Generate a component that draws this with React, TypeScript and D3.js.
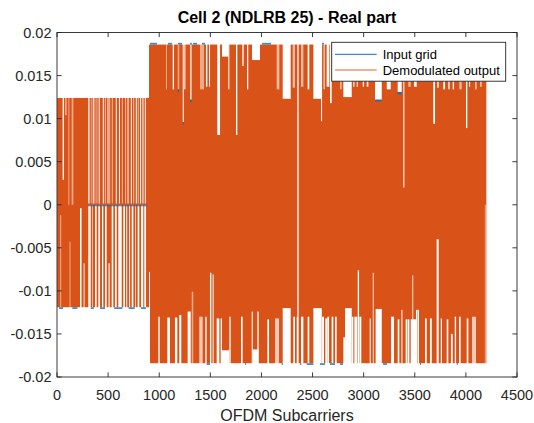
import React from 'react';
import * as d3 from 'd3';

// ---- data ----
const xTicks = [0, 500, 1000, 1500, 2000, 2500, 3000, 3500, 4000, 4500];
const yTicks = [-0.02, -0.015, -0.01, -0.005, 0, 0.005, 0.01, 0.015, 0.02];
const xTickLabels = xTicks.map(String);
const yTickLabels = ['-0.02', '-0.015', '-0.01', '-0.005', '0', '0.005', '0.01', '0.015', '0.02'];

const titleText = 'Cell 2 (NDLRB 25) - Real part';
const xLabelText = 'OFDM Subcarriers';
const seriesNames = ['Input grid', 'Demodulated output'];

// envelope of the densely oscillating signal: [startSc, endSc, low, high]
const bands: number[][] = [
  [1, 900, -0.0119, 0.0124],
  [900, 4200, -0.0184, 0.0186],
];

// subcarriers where the signal sits at zero
const zeroRun = [303, 880];

// white gaps hanging from the top of the envelope: [sc0, sc1, lowestValue, strength]
const topGaps: number[][] = [
  [55, 68, 0.0029, 1], [78, 95, 0.0104, 0.5], [111, 121, 0, 0.5], [143, 160, 0, 0.5],
  [306, 318, 0, 1], [330, 338, 0, 0.5], [350, 358, 0, 1], [366, 374, 0, 0.6], [386, 394, 0, 0.6],
  [408, 416, 0, 1], [448, 456, 0, 1], [468, 476, 0, 0.6], [494, 502, 0, 1], [510, 518, 0, 0.6],
  [536, 544, 0, 0.6], [575, 583, 0, 1], [606, 614, 0, 1], [634, 642, 0, 0.6], [666, 674, 0, 0.6],
  [690, 698, 0, 1], [722, 730, 0, 1], [745, 753, 0, 0.6], [771, 779, 0, 1], [790, 798, 0, 0.6],
  [813, 821, 0, 1], [836, 844, 0, 1], [859, 867, 0, 1],
  [1066, 1076, 0.0134, 0.5], [1132, 1145, 0.0134, 1], [1181, 1196, 0.0134, 0.5],
  [1230, 1240, 0.0096, 1], [1246, 1256, 0.0134, 1], [1301, 1318, 0.0122, 0.7],
  [1399, 1438, 0.0134, 0.5], [1458, 1471, 0.0137, 1], [1487, 1497, 0.0137, 1],
  [1568, 1595, 0.0081, 1], [1614, 1679, 0.0172, 1], [1676, 1686, 0.0134, 1],
  [1751, 1764, 0.0081, 1], [1813, 1826, 0.0161, 1], [1859, 1871, 0.0134, 1],
  [1908, 1986, 0.0168, 1], [2149, 2175, 0.0134, 0.6], [2208, 2286, 0.0123, 1],
  [2306, 2328, 0.0136, 0.6], [2351, 2364, -0.013, 1], [2387, 2410, 0.0137, 0.6],
  [2452, 2468, 0.0134, 1], [2508, 2590, 0.0123, 1], [2583, 2593, 0.0097, 1],
  [2606, 2622, 0.0134, 0.6], [2638, 2664, 0.0137, 1], [2671, 2687, 0.0118, 1],
  [2769, 2785, 0.0134, 0.6], [2801, 2883, 0.0125, 1], [2899, 2910, 0.0137, 1],
  [2932, 2942, 0.0137, 1], [2991, 3004, 0.0137, 1], [3030, 3046, 0.0137, 1],
  [3111, 3177, 0.0122, 1], [3226, 3265, 0.0134, 1], [3333, 3372, 0.0131, 1],
  [3388, 3398, 0.002, 1], [3437, 3460, 0.0137, 0.6], [3493, 3519, 0.0137, 1],
  [3681, 3698, 0.0094, 1], [3720, 3734, 0.0136, 1], [3779, 3796, 0.0134, 1],
  [3828, 3841, 0.0134, 1], [3871, 3884, 0.0134, 1], [3936, 3959, 0.0134, 0.6],
  [4001, 4014, 0.0089, 1], [4031, 4041, 0.0137, 1], [4089, 4106, 0.0134, 0.6],
  [4138, 4155, 0.0137, 0.6],
];

// white gaps rising from the bottom of the envelope: [sc0, sc1, highestValue, strength]
const bottomGaps: number[][] = [
  [31, 41, -0.0012, 0.5], [122, 132, -0.0043, 0.5], [225, 240, -0.0004, 1], [257, 274, -0.0068, 0.5],
  [306, 330, 0, 1], [342, 352, 0, 0.6], [372, 388, 0, 1], [404, 421, 0, 1], [440, 453, 0, 1],
  [470, 486, 0, 1], [502, 518, -0.0068, 0.7], [535, 551, 0, 1], [567, 584, 0, 1], [600, 633, 0, 1],
  [649, 665, 0, 1], [675, 688, 0, 0.7], [705, 715, 0, 1], [731, 747, 0, 1], [763, 773, 0, 0.7],
  [789, 805, 0, 1], [822, 844, 0, 1], [854, 871, 0, 1],
  [900, 910, -0.0078, 1], [991, 1005, -0.013, 1], [1079, 1105, -0.0131, 1], [1154, 1177, -0.0131, 1],
  [1196, 1216, -0.0128, 1], [1278, 1308, -0.0124, 1], [1318, 1333, -0.0101, 0.5],
  [1392, 1425, -0.013, 0.7], [1451, 1464, -0.013, 1], [1497, 1510, -0.0079, 1], [1520, 1536, -0.0081, 0.6],
  [1562, 1588, -0.0132, 1], [1601, 1614, -0.0132, 1], [1614, 1686, -0.0169, 1], [1686, 1699, -0.013, 1],
  [1800, 1816, -0.013, 1], [1905, 1915, -0.0124, 1], [1914, 1970, -0.0168, 1], [1960, 1973, -0.0124, 1],
  [2058, 2074, -0.0133, 1], [2133, 2172, -0.0132, 0.7], [2208, 2286, -0.012, 1], [2312, 2328, -0.013, 1],
  [2345, 2364, -0.013, 1], [2387, 2410, -0.013, 1], [2452, 2468, -0.013, 1], [2508, 2590, -0.012, 1],
  [2593, 2612, -0.013, 1], [2625, 2645, -0.0132, 1], [2645, 2661, -0.013, 1], [2687, 2703, -0.013, 1],
  [2720, 2736, -0.013, 1], [2801, 2818, -0.0154, 1], [2818, 2883, -0.012, 1], [2883, 2899, -0.013, 1],
  [2909, 2938, -0.013, 1], [2942, 2955, -0.0076, 1], [2958, 2977, -0.013, 1], [3059, 3069, -0.0132, 1],
  [3088, 3101, -0.0079, 0.6], [3117, 3177, -0.0121, 1], [3268, 3297, -0.013, 1], [3333, 3349, -0.0133, 1],
  [3366, 3382, -0.0122, 0.6], [3411, 3427, -0.0133, 1], [3431, 3447, -0.0133, 1], [3460, 3512, -0.0133, 1],
  [3473, 3486, -0.0082, 0.6], [3512, 3525, -0.0122, 1], [3528, 3541, -0.0122, 1], [3600, 3617, -0.0132, 1],
  [3649, 3666, -0.0132, 1], [3714, 3734, -0.004, 1], [3754, 3766, -0.0132, 1], [3812, 3828, -0.0133, 1],
  [3854, 3871, -0.015, 1], [3891, 3904, -0.013, 1], [3933, 3949, -0.013, 1], [4008, 4024, -0.0132, 1],
  [4060, 4099, -0.013, 0.7], [4185, 4195, 0.0, 0.5],
];

// places where the input grid (blue) peeks past the output: [sc0, sc1, v0, v1]
const blueMarks: number[][] = [
  [910, 978, 0.0186, 0.0188], [1086, 1125, 0.0186, 0.0188], [1184, 1223, 0.0186, 0.0188],
  [1301, 1320, 0.0186, 0.0188], [1330, 1370, 0.0186, 0.0188], [1418, 1448, 0.0186, 0.0188],
  [2006, 2094, 0.0186, 0.0188], [2593, 2612, 0.0186, 0.0188],
  [1464, 1497, -0.0184, -0.0186], [1839, 1850, -0.0184, -0.0186], [2198, 2210, -0.0184, -0.0186],
  [2377, 2390, -0.0184, -0.0186], [2443, 2508, -0.0184, -0.0186], [2573, 2622, -0.0184, -0.0186],
  [2671, 2720, -0.0184, -0.0186], [2769, 2798, -0.0184, -0.0186], [3190, 3228, -0.0184, -0.0186],
  [3551, 3562, -0.0184, -0.0186], [3910, 3921, -0.0184, -0.0186],
  [1181, 1196, 0.0134, 0.0131], [1230, 1240, 0.0096, 0.0093], [1301, 1318, 0.0122, 0.0119],
  [3333, 3372, 0.0131, 0.0128], [3111, 3177, 0.0122, 0.012],
  [20, 60, -0.0119, -0.0121], [150, 200, -0.0119, -0.0121], [330, 360, -0.0119, -0.0121],
  [420, 470, -0.0119, -0.0121], [560, 640, -0.0119, -0.0121], [700, 760, -0.0119, -0.0121],
  [820, 870, -0.0119, -0.0121],
];

const BLUE = '#0072BD';
const ORANGE = '#D95319';
const AXIS = '#262626';
const FONT = "'Liberation Sans', Arial, Helvetica, sans-serif";

export default function App() {
  const x = d3.scaleLinear().domain([0, 4500]).range([57, 517]);
  const y = d3.scaleLinear().domain([-0.02, 0.02]).range([377, 32.5]);
  const bandAt = (sc: number) => bands.find(b => sc >= b[0] && sc < b[1]) || bands[bands.length - 1];
  const L = x(0), R = x(4500), T = y(0.02), B = y(-0.02);
  const tick = 4.6;
  const zeroLine = d3.line<number[]>().x(d => x(d[0])).y(d => d[1]);

  return (
    <svg width={534} height={423} style={{ position: 'absolute', left: 0, top: 0 }} fontFamily={FONT}>
      <rect x={0} y={0} width={534} height={423} fill="#fff" />
      <defs>
        <clipPath id="plotclip"><rect x={L} y={T} width={R - L} height={B - T} /></clipPath>
      </defs>
      <g clipPath="url(#plotclip)">
        {bands.map((b, i) => (
          <rect key={'ob' + i} x={x(b[0])} y={y(b[3])} width={x(b[1]) - x(b[0])} height={y(b[2]) - y(b[3])} fill={ORANGE} />
        ))}
        {topGaps.map((g, i) => {
          const b = bandAt(g[0]);
          const x0 = x(g[0]);
          const w = Math.max(1, x(g[1]) - x0);
          return <rect key={'tg' + i} x={x0} y={y(b[3]) - 1} width={w} height={y(g[2]) - y(b[3]) + 1} fill="#fff" fillOpacity={g[3]} />;
        })}
        {bottomGaps.map((g, i) => {
          const b = bandAt(g[0]);
          const x0 = x(g[0]);
          const w = Math.max(1, x(g[1]) - x0);
          return <rect key={'bg' + i} x={x0} y={y(g[2])} width={w} height={y(b[2]) - y(g[2]) + 1} fill="#fff" fillOpacity={g[3]} />;
        })}
        <path d={zeroLine([[zeroRun[0], y(0) + 1], [zeroRun[1], y(0) + 1]]) || ''} stroke={BLUE} strokeWidth={1.2} fill="none" />
        <path d={zeroLine([[zeroRun[0], y(0) - 0.5], [zeroRun[1], y(0) - 0.5]]) || ''} stroke={ORANGE} strokeWidth={1.4} fill="none" />
        {blueMarks.map((m, i) => {
          const y0 = Math.min(y(m[2]), y(m[3]));
          const h = Math.max(1.2, Math.abs(y(m[2]) - y(m[3])));
          return <rect key={'bm' + i} x={x(m[0])} y={y0} width={Math.max(1, x(m[1]) - x(m[0]))} height={h} fill={BLUE} fillOpacity={0.8} />;
        })}
      </g>

      {/* axes box */}
      <rect x={L} y={T} width={R - L} height={B - T} fill="none" stroke={AXIS} strokeWidth={0.9} />
      {xTicks.map((t, i) => (
        <g key={'xt' + i}>
          <line x1={x(t)} x2={x(t)} y1={B} y2={B - tick} stroke={AXIS} strokeWidth={0.9} />
          <line x1={x(t)} x2={x(t)} y1={T} y2={T + tick} stroke={AXIS} strokeWidth={0.9} />
          <text x={x(t)} y={399.5} textAnchor="middle" fontSize={14.5} fill={AXIS}>{xTickLabels[i]}</text>
        </g>
      ))}
      {yTicks.map((t, i) => (
        <g key={'yt' + i}>
          <line x1={L} x2={L + tick} y1={y(t)} y2={y(t)} stroke={AXIS} strokeWidth={0.9} />
          <line x1={R} x2={R - tick} y1={y(t)} y2={y(t)} stroke={AXIS} strokeWidth={0.9} />
          <text x={51.5} y={y(t) + 5} textAnchor="end" fontSize={14.5} fill={AXIS}>{yTickLabels[i]}</text>
        </g>
      ))}

      <text x={(L + R) / 2} y={22.5} textAnchor="middle" fontSize={16} fontWeight="bold" fill="#000">{titleText}</text>
      <text x={(L + R) / 2} y={420.5} textAnchor="middle" fontSize={16} fill={AXIS}>{xLabelText}</text>

      {/* legend */}
      <g>
        <rect x={331.7} y={42.3} width={174} height={38.9} fill="#fff" stroke={AXIS} strokeWidth={0.9} />
        <line x1={335} x2={376.7} y1={54.3} y2={54.3} stroke={BLUE} strokeWidth={1} />
        <text x={382.7} y={58.8} fontSize={13} fill="#000">{seriesNames[0]}</text>
        <line x1={335} x2={376.7} y1={70} y2={70} stroke="#EC9470" strokeWidth={1.4} />
        <text x={382.7} y={74.5} fontSize={13} fill="#000">{seriesNames[1]}</text>
      </g>
    </svg>
  );
}
